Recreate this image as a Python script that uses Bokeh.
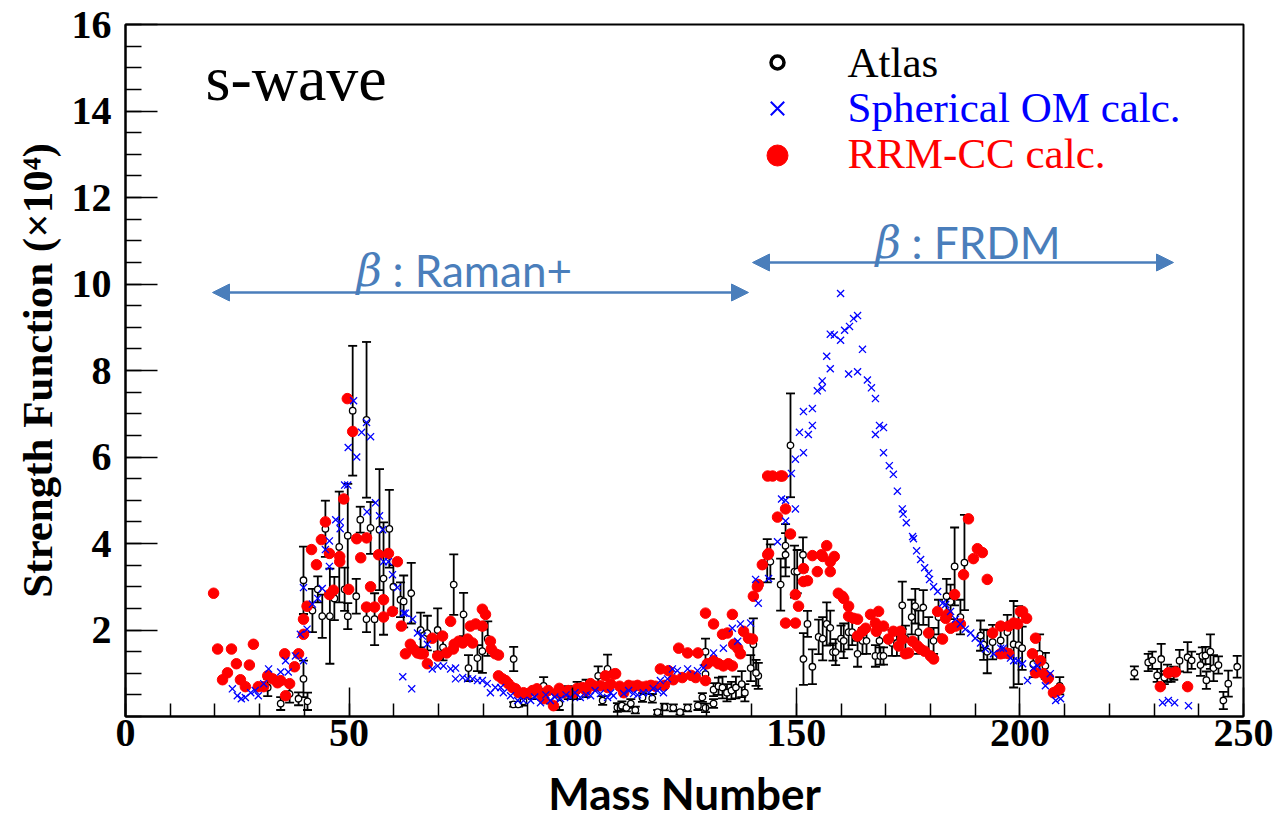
from bokeh.plotting import figure
from bokeh.models import FixedTicker, Label, Arrow, NormalHead
from bokeh.embed import file_html
from bokeh.resources import INLINE

# ---------------- data ----------------
atlas_A = [31.8, 34.7, 36.7, 38.7, 40.7, 39.8, 39.8, 41.8, 43.0, 44.0, 44.7, 45.7, 46.7, 47.8, 49.0,
           49.7, 49.7, 50.8, 51.6, 52.5, 53.9, 53.9, 54.8, 55.7, 56.8, 57.7, 59.0, 59.9, 61.5, 62.2,
           63.9, 66.0, 67.5, 69.8, 71.0, 73.4, 75.6, 76.7, 78.7, 79.8, 81.0, 86.8, 86.8, 87.9, 89.0,
           91.0, 93.5, 95.0, 97.0, 99.0, 101.0, 103.0, 105.7, 106.7, 107.8,
           110.0, 111.0, 112.0, 113.0, 114.0, 115.6, 117.8, 119.0, 120.5, 122.5, 124.0, 125.7, 128.0,
           129.0, 129.7, 129.7, 131.5, 129.7, 131.5, 132.6, 133.5, 134.5, 135.5, 136.5, 137.8, 138.5,
           139.8, 140.4, 141.5, 141.0,
           143.5, 144.2, 146.5, 147.6, 147.6, 148.7, 149.6, 150.2, 151.5, 151.6, 152.5, 153.6, 155.0,
           155.9, 156.8, 157.6, 158.2, 158.8, 160.0, 160.6, 161.7, 162.5, 163.7, 164.8, 165.7, 167.7,
           168.6, 168.8, 169.5, 171.4, 172.5, 173.7, 174.4, 175.8, 176.6, 177.3, 178.4, 179.6, 180.7,
           181.8, 183.6, 184.5, 185.4, 186.7, 187.6, 191.2, 191.9, 192.7, 193.9, 195.7, 197.2, 198.6,
           199.7, 200.5, 203.0, 204.4, 205.7, 208.9,
           225.6, 228.7, 229.6, 230.7, 231.6, 232.3, 233.0, 233.8, 234.4, 235.7, 237.5, 238.4, 240.4,
           240.8, 241.5, 241.7, 242.6, 243.3, 244.4, 245.5, 246.6, 248.6]
atlas_val = [0.67, 0.30, 0.52, 0.41, 0.35, 0.87, 3.15, 2.45, 2.94, 2.32, 4.34, 2.32, 2.73, 3.92, 2.94,
             2.32, 4.18, 7.07, 2.78, 4.55, 6.86, 2.25, 4.36, 2.25, 4.32, 3.19, 4.34, 3.00, 2.70, 2.66,
             2.85, 2.00, 1.93, 2.00, 1.60, 3.05, 2.36, 1.12, 1.35, 1.51, 1.80, 1.33, 0.28, 0.28, 0.35,
             0.50, 0.71, 0.45, 0.30, 0.55, 0.60, 0.65, 0.94, 0.37, 1.10,
             0.21, 0.25, 0.20, 0.30, 0.15, 0.44, 0.42, 0.10, 0.22, 0.20, 0.10, 0.20, 0.25,
             0.44, 0.20, 1.50, 0.30, 0.98, 0.62, 0.70, 0.67, 0.55, 0.60, 0.67, 0.75, 0.55,
             1.12, 1.67, 0.94, 1.01,
             3.60, 3.58, 3.05, 3.95, 3.74, 6.27, 3.35, 3.35, 3.74, 1.33, 2.14, 1.15, 1.84,
             1.80, 2.14, 2.05, 1.49, 1.49, 1.80, 1.75, 1.95, 1.95, 1.45, 1.75, 1.75, 1.40,
             1.75, 1.40, 1.40, 1.70, 1.70, 2.57, 1.80, 2.30, 2.55, 1.95, 2.52, 1.90, 1.75,
             2.30, 2.78, 2.65, 3.47, 2.30, 3.56, 1.87, 1.66, 1.50, 1.72, 1.76, 1.95, 1.67,
             1.65, 1.58, 1.21, 1.45, 1.17, 0.71,
             1.01, 1.25, 1.30, 0.95, 1.33, 0.90, 1.00, 0.95, 1.00, 1.29, 1.37, 1.30, 1.19,
             1.40, 1.41, 0.84, 1.50, 1.12, 1.19, 0.37, 0.76, 1.15]
atlas_err = [0.20, 0.15, 0.20, 0.15, 0.20, 0.42, 0.78, 0.50, 0.30, 0.50, 0.65, 1.10, 0.50, 1.28, 0.50,
             0.30, 1.20, 1.50, 0.40, 0.30, 1.80, 0.30, 0.60, 0.60, 1.40, 1.30, 0.90, 0.50, 0.40, 0.60,
             0.70, 0.40, 0.40, 0.50, 0.30, 0.70, 0.50, 0.30, 0.30, 0.50, 0.40, 0.28, 0.05, 0.05, 0.10,
             0.10, 0.20, 0.15, 0.15, 0.15, 0.20, 0.20, 0.22, 0.10, 0.33,
             0.10, 0.10, 0.08, 0.10, 0.08, 0.10, 0.10, 0.05, 0.08, 0.08, 0.05, 0.08, 0.10,
             0.10, 0.10, 0.30, 0.10, 0.20, 0.15, 0.20, 0.25, 0.20, 0.20, 0.25, 0.30, 0.20,
             0.30, 0.60, 0.30, 0.30,
             0.50, 0.40, 0.60, 0.50, 0.50, 1.20, 0.60, 0.50, 0.40, 0.60, 0.30, 0.40, 0.40,
             0.50, 0.50, 0.40, 0.20, 0.30, 0.30, 0.40, 0.40, 0.30, 0.30, 0.30, 0.30, 0.25,
             0.30, 0.20, 0.20, 0.30, 0.30, 0.55, 0.30, 0.40, 0.40, 0.50, 0.40, 0.40, 0.30,
             0.40, 0.40, 0.40, 0.90, 0.40, 1.10, 0.35, 0.35, 0.50, 0.40, 0.40, 0.40, 1.00,
             0.90, 0.50, 0.30, 0.45, 0.30, 0.20,
             0.15, 0.20, 0.20, 0.15, 0.35, 0.15, 0.20, 0.15, 0.15, 0.25, 0.35, 0.20, 0.25,
             0.20, 0.20, 0.20, 0.40, 0.30, 0.20, 0.20, 0.30, 0.25]

om_A = [23.9, 25.0, 25.9, 26.8, 28.0, 29.0, 29.7, 30.9, 32.0, 34.7, 35.8, 36.4, 38.0, 39.8, 39.1,
        40.6, 39.8, 41.8, 43.0, 44.0, 44.7, 45.6, 45.6, 47.0, 48.0, 48.0, 49.0, 49.7, 49.8, 51.0,
        51.7, 52.8, 54.8, 53.9, 54.0, 55.9, 56.8, 57.5, 57.7, 58.8, 59.7, 60.8, 62.2, 62.0, 64.0,
        62.6, 64.2, 65.3, 66.4, 67.5, 68.6, 69.8, 71.1, 72.7, 73.8, 73.8, 75.4, 76.5, 77.6, 78.7,
        79.8, 80.9, 81.6, 82.7, 83.9, 84.5, 86.1, 87.7, 89.0,
        90.6, 91.5, 92.8, 94.0, 95.0, 96.0, 97.3, 98.5, 99.5, 100.5, 101.7, 103.0, 104.0, 105.0,
        106.2, 107.8, 108.5, 109.1, 111.4, 112.5, 113.6, 114.5, 115.8, 117.0, 118.0, 119.0, 120.3,
        119.6, 121.2, 122.3, 123.4, 125.7, 127.9, 129.2, 131.5, 133.7, 135.7, 137.5, 139.8, 136.9,
        140.9, 141.5, 143.8, 145.8, 146.7,
        147.6, 147.6, 148.9, 149.8, 149.8, 150.7, 151.6, 151.6, 152.7, 153.6, 153.6, 154.7, 155.8,
        155.8, 156.8, 157.6, 157.6, 158.5, 159.9, 159.9, 160.8, 161.9, 162.8, 163.7, 161.7, 163.7,
        164.8, 165.9, 166.8, 167.7, 167.7, 168.6, 169.5, 169.5, 170.8, 171.7, 172.6, 173.7, 173.9,
        174.6, 176.0, 176.2, 176.9, 177.8, 178.7, 179.6, 179.8, 180.7, 181.6, 182.7, 183.4, 184.5,
        185.6, 186.7, 187.8, 189.0, 190.0, 191.2, 192.3, 194.1, 195.7, 197.9, 198.6, 196.3, 199.5,
        200.6, 201.7, 203.0, 203.9, 205.7, 206.8, 208.0, 209.1,
        231.9, 233.2, 234.6, 237.7]
om_val = [0.64, 0.48, 0.41, 0.44, 0.55, 0.60, 0.48, 0.76, 1.10, 1.03, 1.29, 1.03, 1.40, 1.29, 1.90,
          2.02, 2.98, 2.60, 2.73, 2.96, 3.86, 4.06, 3.47, 4.55, 4.50, 4.34, 5.35, 5.35, 6.22, 7.30,
          6.00, 6.57, 6.47, 6.80, 4.73, 4.94, 4.64, 4.32, 3.58, 3.58, 3.28, 2.98, 2.39, 0.92, 0.64,
          2.39, 2.25, 1.93, 1.86, 1.67, 1.10, 1.17, 1.17, 1.10, 1.12, 0.87, 0.90, 0.87, 0.87, 0.83,
          0.83, 0.76, 0.55, 0.67, 0.67, 0.55, 0.48, 0.37, 0.37,
          0.37, 0.45, 0.32, 0.50, 0.37, 0.45, 0.41, 0.50, 0.44, 0.55, 0.44, 0.50, 0.48, 0.60,
          0.53, 0.44, 0.55, 0.48, 0.53, 0.60, 0.53, 0.50, 0.55, 0.55, 0.65, 0.60, 0.55,
          0.83, 0.87, 1.10, 1.06, 1.10, 1.06, 1.12, 1.47, 1.58, 2.04, 2.14, 2.16, 1.74,
          3.17, 2.62, 3.19, 4.04, 5.03,
          5.00, 4.52, 5.62, 5.95, 4.80, 6.57, 6.10, 7.05, 6.52, 6.73, 7.12, 7.53, 7.60,
          7.76, 8.33, 8.04, 8.84, 8.82, 8.70, 9.78, 8.93, 9.02, 9.20, 9.27, 7.92, 7.97,
          8.49, 7.78, 7.60, 7.35, 6.52, 6.73, 6.68, 6.10, 5.80, 5.60, 5.21, 4.80, 4.68,
          4.48, 4.16, 4.11, 3.83, 3.63, 3.44, 3.31, 3.17, 3.00, 2.89, 2.62, 2.59, 2.43,
          2.25, 2.14, 2.02, 1.93, 1.81, 1.70, 1.56, 1.45, 1.58, 1.35, 1.29, 1.58, 1.29,
          1.22, 0.83, 1.12, 1.17, 0.71, 0.99, 0.37, 0.41,
          0.32, 0.37, 0.32, 0.25]

rrm_A = [19.7, 20.6, 21.7, 22.8, 23.7, 24.8, 25.7, 26.8, 27.7, 28.6, 29.7, 30.9, 31.8, 32.9, 34.0,
         34.7, 35.6, 36.7, 35.8, 37.8, 38.7, 39.8, 39.8, 40.6, 41.6, 42.7, 43.8, 44.7, 45.6, 45.6,
         46.5, 47.9, 47.9, 48.8, 49.9, 49.6, 50.8, 51.7, 53.9, 52.6, 53.9, 55.7, 54.8, 56.6, 57.7,
         57.7, 58.8, 59.7, 60.8, 61.7, 62.6, 63.7, 64.4, 65.3, 66.0, 66.6, 67.5, 68.6, 69.8, 70.9,
         71.8, 72.7, 73.3, 73.5, 74.5, 75.4, 76.5, 77.6, 77.1, 78.3, 79.8, 79.8, 80.5, 81.6, 81.8,
         82.7, 83.4, 83.4, 84.3, 85.0, 85.6, 86.5, 87.2, 87.9, 89.0, 89.9,
         91.0, 92.0, 93.0, 93.5, 94.5, 95.7, 96.5, 97.0, 98.0, 99.0, 100.2, 101.0, 102.2, 103.0,
         104.0, 105.0, 106.2, 107.3, 107.8, 108.5, 109.2, 109.6, 110.5, 111.4, 112.5, 113.5, 114.5,
         115.5, 116.5, 117.5, 118.5, 119.6, 120.5, 121.4, 122.5, 123.7, 124.5, 125.7, 126.5, 128.0,
         127.5, 129.7, 129.7, 131.5, 130.1, 131.5, 132.6, 133.7, 134.8, 135.7, 133.5, 134.6, 135.7,
         136.0, 136.9, 137.5, 138.2, 139.3, 140.2, 140.4, 141.3, 141.5, 142.4, 143.6, 143.8,
         143.6, 144.7, 146.5, 145.8,
         146.9, 147.6, 148.7, 149.8, 150.5, 149.8, 147.6, 151.6, 151.6, 152.5, 153.6, 154.7, 155.6,
         155.9, 156.8, 157.6, 157.6, 158.5, 159.4, 160.3, 160.6, 161.7, 161.7, 162.8, 163.7, 163.7,
         164.8, 165.5, 166.6, 167.7, 168.4, 167.9, 169.5, 170.6, 171.7, 172.9, 173.3, 173.7, 174.4,
         175.1, 176.0, 177.1, 177.8, 178.7, 179.6, 180.0, 180.7, 181.6, 182.7, 183.4, 183.8, 184.5,
         185.4, 185.6, 186.7, 187.4, 188.5, 189.6, 190.5, 191.6, 192.7, 193.9, 195.7, 195.7, 197.5,
         198.6, 200.1, 196.8, 197.5, 199.5, 200.6, 201.5, 202.8, 203.5, 204.6, 203.5, 205.3, 206.2,
         206.4, 207.5, 208.4, 208.9,
         231.4, 233.2, 234.8, 237.5]
rrm_val = [2.85, 1.56, 0.85, 1.01, 1.56, 1.22, 0.85, 0.69, 1.19, 1.67, 0.69, 0.69, 0.94, 0.87, 0.78,
           0.83, 1.45, 0.76, 0.48, 1.15, 1.45, 1.90, 2.25, 2.55, 3.86, 3.51, 4.09, 4.50, 3.77, 2.82,
           2.92, 3.70, 3.58, 5.03, 2.94, 7.35, 6.59, 4.11, 4.13, 3.67, 2.53, 2.53, 3.00, 3.74, 2.70,
           2.30, 3.77, 2.43, 3.58, 2.09, 1.45, 1.67, 1.56, 1.47, 1.45, 1.45, 1.22, 1.81, 1.40, 1.86,
           1.47, 2.20, 1.56, 1.67, 1.74, 1.70, 1.79, 1.70, 2.09, 2.14, 2.09, 2.48, 2.36, 1.74, 1.56,
           1.45, 1.42, 0.94, 0.87, 0.83, 0.76, 0.67, 0.64, 0.55, 0.55, 0.53,
           0.60, 0.64, 0.50, 0.41, 0.60, 0.25, 0.55, 0.65, 0.55, 0.60, 0.55, 0.65, 0.67, 0.60,
           0.76, 0.70, 0.71, 0.94, 0.67, 0.75, 0.98, 0.99, 0.70, 0.55, 0.72, 0.70, 0.72,
           0.68, 0.70, 0.72, 0.70, 1.10, 0.72, 1.06, 0.85, 1.58, 0.90, 1.47, 0.95, 1.47,
           0.90, 2.39, 0.83, 2.14, 1.22, 1.29, 1.22, 1.17, 1.22, 1.17, 1.90, 1.93, 2.36,
           1.67, 1.58, 1.45, 1.97, 1.81, 1.79, 2.78, 3.00, 3.05, 3.51, 3.74, 3.77,
           5.56, 5.56, 5.56, 4.61,
           5.56, 4.80, 4.22, 2.82, 2.55, 2.16, 2.16, 3.42, 3.12, 3.14, 3.72, 3.35, 3.74,
           3.70, 3.95, 3.58, 3.35, 3.70, 2.85, 2.78, 2.73, 2.55, 2.32, 2.27, 2.25, 1.86,
           1.97, 2.04, 2.36, 2.16, 2.43, 1.97, 2.09, 1.79, 1.97, 1.63, 1.97, 1.79, 1.45,
           1.47, 1.74, 1.63, 1.56, 1.51, 1.93, 1.40, 1.33, 2.43, 1.79, 2.27, 2.36, 2.04,
           2.82, 2.09, 2.14, 3.28, 4.57, 3.65, 3.88, 3.79, 3.17, 1.93, 2.09, 1.45, 2.09,
           2.16, 2.43, 1.47, 1.45, 2.14, 2.43, 2.27, 1.45, 1.81, 1.29, 1.01, 0.99, 0.87,
           0.90, 0.55, 0.60, 0.64,
           0.69, 1.01, 1.03, 0.69]

x_ticks = [0, 50, 100, 150, 200, 250]
x_minor = list(range(0, 251, 10))
y_ticks = [2, 4, 6, 8, 10, 12, 14, 16]
y_minor = [i * 0.5 for i in range(0, 33)]

legend_labels = ["Atlas", "Spherical OM calc.", "RRM-CC calc."]
legend_colors = ["black", "blue", "red"]

# ---------------- figure ----------------
W, H = 1274, 827
L, R, T, B = 125, 31, 24, 111
XMAX, YMAX = 250.0, 16.0

p = figure(width=W, height=H, x_range=(0, XMAX), y_range=(0, YMAX),
           output_backend="svg", toolbar_location=None,
           min_border_left=L, min_border_right=R, min_border_top=T, min_border_bottom=B)
p.grid.visible = False
p.background_fill_color = "white"
p.border_fill_color = "white"
p.outline_line_color = "black"
p.outline_line_width = 2

fw, fh = W - L - R, H - T - B
def dx(px):
    return (px - L) / fw * XMAX
def dy(py):
    return (T + fh - py) / fh * YMAX
def dtext(py, size):
    # Label y marks the bottom of the text box; lift it so the baseline lands on py
    return dy(py - 0.35 * size)

# axes
p.xaxis.ticker = FixedTicker(ticks=x_ticks, minor_ticks=x_minor)
p.yaxis.ticker = FixedTicker(ticks=y_ticks, minor_ticks=y_minor)
for ax in (p.xaxis, p.yaxis):
    ax.axis_line_width = 2
    ax.major_tick_out = 0
    ax.minor_tick_out = 0
    ax.major_tick_line_width = 1.5
    ax.minor_tick_line_width = 1.5
    ax.major_label_text_font = "Liberation Serif"
    ax.major_label_text_font_style = "bold"
    ax.major_label_text_font_size = "40px"
    ax.major_label_text_color = "black"
p.xaxis.major_tick_in = 29
p.xaxis.minor_tick_in = 13
p.yaxis.major_tick_in = 32
p.yaxis.minor_tick_in = 16
p.xaxis.major_label_standoff = 3
p.yaxis.major_label_standoff = 14

p.xaxis.axis_label = "Mass Number"
p.xaxis.axis_label_text_font = "Lato"
p.xaxis.axis_label_text_font_style = "bold"
p.xaxis.axis_label_text_font_size = "44px"
p.xaxis.axis_label_text_color = "black"
p.xaxis.axis_label_standoff = 18

p.yaxis.axis_label = "Strength Function (\u00d710\u2074)"
p.yaxis.axis_label_text_font = "Liberation Serif"
p.yaxis.axis_label_text_font_style = "bold"
p.yaxis.axis_label_text_font_size = "43px"
p.yaxis.axis_label_text_color = "black"
p.yaxis.axis_label_standoff = 8

# ---------------- data marks ----------------
lo = [v - e for v, e in zip(atlas_val, atlas_err)]
hi = [v + e for v, e in zip(atlas_val, atlas_err)]
p.segment(x0=atlas_A, y0=lo, x1=atlas_A, y1=hi, line_color="black", line_width=1.8)
p.scatter(x=atlas_A + atlas_A, y=lo + hi, marker="dash", size=9, line_color="black", line_width=1.8)
p.scatter(x=atlas_A, y=atlas_val, marker="circle", size=6.5, fill_color="white",
          line_color="black", line_width=1.3)
p.scatter(x=rrm_A, y=rrm_val, marker="circle", size=10.5, fill_color="red", line_color="red")
p.scatter(x=om_A, y=om_val, marker="x", size=10, line_color="blue", line_width=1.3)

# ---------------- legend ----------------
leg_x = dx(777)
leg_rows = [62, 108, 155]
p.scatter(x=[leg_x], y=[dy(leg_rows[0])], marker="circle", size=13, fill_color="white",
          line_color="black", line_width=3.5)
p.scatter(x=[leg_x], y=[dy(leg_rows[1])], marker="x", size=19, line_color="blue", line_width=2)
p.scatter(x=[leg_x], y=[dy(leg_rows[2])], marker="circle", size=21, fill_color="red", line_color="red")
for lab, col, row in zip(legend_labels, legend_colors, [77, 122, 168]):
    p.add_layout(Label(x=dx(847), y=dtext(row, 43), text=lab, text_color=col,
                       text_font="Liberation Serif", text_font_size="43px",
                       text_baseline="alphabetic"))

p.add_layout(Label(x=dx(205), y=dtext(100, 64), text="s-wave", text_color="black",
                   text_font="Liberation Serif", text_font_size="64px", text_baseline="alphabetic"))

# ---------------- beta arrows ----------------
acol = "#4a7ebb"
p.add_layout(Arrow(x_start=dx(212), x_end=dx(748), y_start=dy(292), y_end=dy(292),
                   line_color=acol, line_width=2.5,
                   start=NormalHead(size=17, fill_color=acol, line_color=acol),
                   end=NormalHead(size=17, fill_color=acol, line_color=acol)))
p.add_layout(Arrow(x_start=dx(752), x_end=dx(1173), y_start=dy(262), y_end=dy(262),
                   line_color=acol, line_width=2.5,
                   start=NormalHead(size=17, fill_color=acol, line_color=acol),
                   end=NormalHead(size=17, fill_color=acol, line_color=acol)))
for bx, tx, by, txt in [(356, 392, 285, ": Raman+"), (875, 911, 257, ": FRDM")]:
    p.add_layout(Label(x=dx(bx), y=dtext(by, 44), text="\u03b2", text_color=acol,
                       text_font="DejaVu Serif", text_font_style="italic",
                       text_font_size="44px", text_baseline="alphabetic"))
    p.add_layout(Label(x=dx(tx), y=dtext(by, 44), text=txt, text_color=acol,
                       text_font="Lato", text_font_size="44px", text_baseline="alphabetic"))

open("out.html", "w").write(file_html(p, INLINE))
